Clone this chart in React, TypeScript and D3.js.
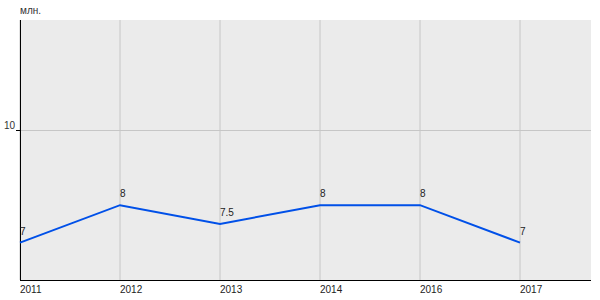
import React from "react";
import * as d3 from "d3";

const categories = ["2011", "2012", "2013", "2014", "2016", "2017"];
const values = [7, 8, 7.5, 8, 8, 7];
const yTicks = [10];
const yLabel = "млн.";

export default function App() {
  const W = 600, H = 300;
  const left = 20, right = 591, top = 20, bottom = 280;
  const x = d3.scalePoint<string>().domain(categories).range([left, left + 100 * (categories.length - 1)]);
  const y = d3.scaleLinear().domain([6, 12.95]).range([bottom, top]);
  const line = d3.line<number>().x((_, i) => x(categories[i])!).y((d) => y(d));
  const font = "Arial, 'Liberation Sans', sans-serif";
  return (
    <svg width={W} height={H} style={{ position: "absolute", left: 0, top: 0 }} fontFamily={font}>
      <rect x={left} y={top} width={right - left} height={bottom - top} fill="#ebebeb" />
      {categories.map((c) => (
        <line key={c} x1={x(c)} x2={x(c)} y1={top} y2={bottom} stroke="#c6c6c6" strokeWidth={1} />
      ))}
      {yTicks.map((t) => (
        <g key={t}>
          <line x1={left} x2={right} y1={Math.round(y(t)) + 0.5} y2={Math.round(y(t)) + 0.5} stroke="#c6c6c6" />
          <line x1={left - 4} x2={left} y1={Math.round(y(t)) + 0.5} y2={Math.round(y(t)) + 0.5} stroke="#000" />
          <text x={left - 5} y={y(t) - 1} textAnchor="end" fontSize={10} fill="#333">{t}</text>
        </g>
      ))}
      <line x1={left + 0.5} x2={left + 0.5} y1={top} y2={bottom} stroke="#000" />
      <line x1={left} x2={right} y1={bottom + 0.5} y2={bottom + 0.5} stroke="#000" />
      <text x={left} y={14} fontSize={10} fill="#333">{yLabel}</text>
      <path d={line(values)!} fill="none" stroke="#0050e8" strokeWidth={2} />
      {values.map((v, i) => (
        <text key={i} x={x(categories[i])} y={y(v) - 8} fontSize={10} fill="#222">{v}</text>
      ))}
      {categories.map((c) => (
        <text key={c} x={x(c)} y={293} fontSize={10} fill="#222">{c}</text>
      ))}
    </svg>
  );
}
